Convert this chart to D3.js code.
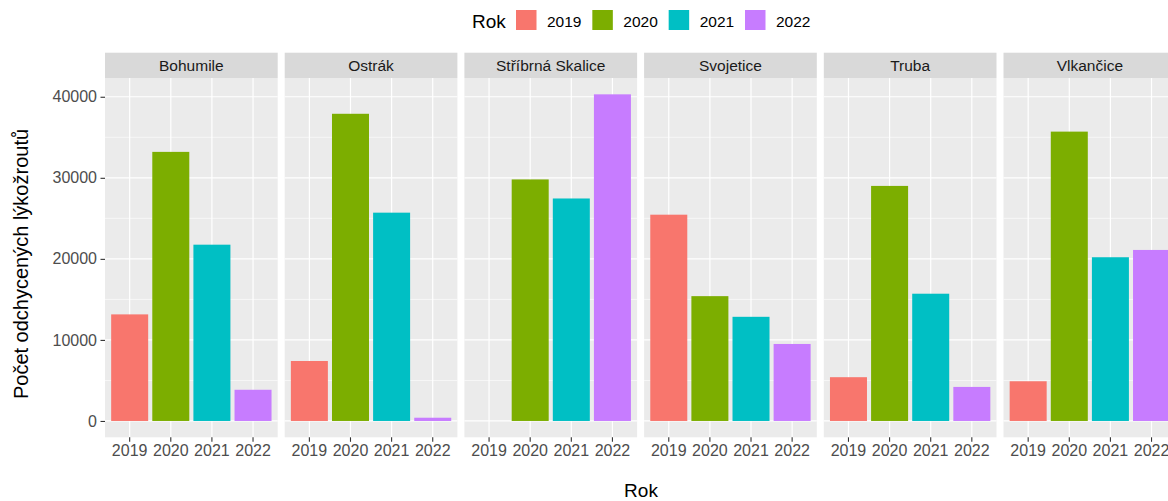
<!DOCTYPE html>
<html>
<head>
<meta charset="utf-8">
<script src="https://cdn.jsdelivr.net/npm/d3@7"></script>
<style>
  html, body { margin: 0; padding: 0; background: #fff; }
  svg { display: block; font-family: "Liberation Sans", Arial, sans-serif; }
</style>
</head>
<body>
<svg id="chart" width="1168" height="501"></svg>
<script>
// ---- data ----
const facets = ["Bohumile", "Ostrák", "Stříbrná Skalice", "Svojetice", "Truba", "Vlkančice"];
const years = ["2019", "2020", "2021", "2022"];
const v2019 = [13150, 7400, 0, 25450, 5400, 4900];
const v2020 = [33200, 37900, 29800, 15400, 29000, 35700];
const v2021 = [21750, 25700, 27450, 12850, 15700, 20200];
const v2022 = [3850, 400, 40300, 9500, 4200, 21100];
const yTicks = [0, 10000, 20000, 30000, 40000];
const yMinor = [5000, 15000, 25000, 35000];
const colors = ["#F8766D", "#7CAE00", "#00BFC4", "#C77CFF"];
const legendTitle = "Rok";
const xTitle = "Rok";
const yTitle = "Počet odchycených lýkožroutů";

const seriesVals = [v2019, v2020, v2021, v2022];
const rows = [];
facets.forEach((f, i) => years.forEach((y, j) => rows.push({ facet: f, year: y, value: seriesVals[j][i] })));

// ---- layout ----
const svg = d3.select("#chart");
const panelTop = 78, panelBottom = 437.3, stripTop = 52.7;
const maxV = d3.max(rows, d => d.value);
const expand = maxV * 0.05;

const fx = d3.scaleBand().domain(facets).range([105, 105 + 179.7 * 5 + 172.7]).paddingInner(7 / 179.7).paddingOuter(0);
const x = d3.scaleBand().domain(years).range([0, fx.bandwidth()]).paddingInner(0.1).paddingOuter(0.15);
const y = d3.scaleLinear().domain([-expand, maxV + expand]).range([panelBottom, panelTop]);
const color = d3.scaleOrdinal().domain(years).range(colors);

const panels = svg.selectAll("g.panel").data(facets).join("g")
  .attr("class", "panel")
  .attr("transform", d => `translate(${fx(d)},0)`);

// strip
panels.append("rect").attr("x", 0).attr("y", stripTop).attr("width", fx.bandwidth())
  .attr("height", panelTop - stripTop).attr("fill", "#d9d9d9");
panels.append("text").attr("x", fx.bandwidth() / 2).attr("y", (stripTop + panelTop) / 2)
  .attr("dy", "0.35em").attr("text-anchor", "middle").attr("font-size", 15.5)
  .attr("fill", "#1a1a1a").text(d => d);

// panel background
panels.append("rect").attr("x", 0).attr("y", panelTop).attr("width", fx.bandwidth())
  .attr("height", panelBottom - panelTop).attr("fill", "#ebebeb");

// grid
panels.each(function () {
  const g = d3.select(this);
  g.selectAll("line.minor").data(yMinor).join("line")
    .attr("x1", 0).attr("x2", fx.bandwidth())
    .attr("y1", d => y(d)).attr("y2", d => y(d))
    .attr("stroke", "#fff").attr("stroke-width", 0.6);
  g.selectAll("line.major").data(yTicks).join("line")
    .attr("x1", 0).attr("x2", fx.bandwidth())
    .attr("y1", d => y(d)).attr("y2", d => y(d))
    .attr("stroke", "#fff").attr("stroke-width", 1.2);
  g.selectAll("line.vmajor").data(years).join("line")
    .attr("x1", d => x(d) + x.bandwidth() / 2).attr("x2", d => x(d) + x.bandwidth() / 2)
    .attr("y1", panelTop).attr("y2", panelBottom)
    .attr("stroke", "#fff").attr("stroke-width", 1.2);
});

// bars
panels.selectAll("rect.bar").data(f => rows.filter(r => r.facet === f)).join("rect")
  .attr("class", "bar")
  .attr("x", d => x(d.year)).attr("width", x.bandwidth())
  .attr("y", d => y(Math.max(0, d.value)))
  .attr("height", d => Math.abs(y(d.value) - y(0)))
  .attr("fill", d => color(d.year));

// x axes
panels.each(function () {
  const g = d3.select(this).append("g").attr("transform", `translate(0,${panelBottom})`);
  const ax = d3.axisBottom(x).tickSize(4.5).tickPadding(3);
  g.call(ax);
  g.select(".domain").remove();
  g.selectAll(".tick line").attr("stroke", "#333").attr("stroke-width", 1.1);
  g.selectAll(".tick text").attr("fill", "#4d4d4d").attr("font-size", 16)
    .attr("font-family", "Liberation Sans, Arial, sans-serif");
});

// y axis
const yg = svg.append("g").attr("transform", `translate(${fx(facets[0])},0)`);
yg.call(d3.axisLeft(y).tickValues(yTicks).tickFormat(d3.format("d")).tickSize(4.5).tickPadding(3.5));
yg.select(".domain").remove();
yg.selectAll(".tick line").attr("stroke", "#333").attr("stroke-width", 1.1);
yg.selectAll(".tick text").attr("fill", "#4d4d4d").attr("font-size", 16)
  .attr("font-family", "Liberation Sans, Arial, sans-serif");

// axis titles
svg.append("text").attr("x", 641).attr("y", 496.5).attr("text-anchor", "middle")
  .attr("font-size", 19).attr("fill", "#000").text(xTitle);
svg.append("text").attr("transform", `translate(28,264) rotate(-90)`)
  .attr("text-anchor", "middle").attr("font-size", 20).attr("fill", "#000").text(yTitle);

// legend
const lg = svg.append("g");
lg.append("text").attr("x", 472).attr("y", 28).attr("font-size", 19).attr("fill", "#000").text(legendTitle);
const lx = d3.scalePoint().domain(years).range([516, 745]);
const items = lg.selectAll("g.item").data(years).join("g").attr("class", "item")
  .attr("transform", d => `translate(${lx(d)},10)`);
items.append("rect").attr("width", 20.5).attr("height", 20).attr("fill", d => color(d));
items.append("text").attr("x", 31).attr("y", 16.7).attr("font-size", 15.5).attr("fill", "#000").text(d => d);
</script>
</body>
</html>
